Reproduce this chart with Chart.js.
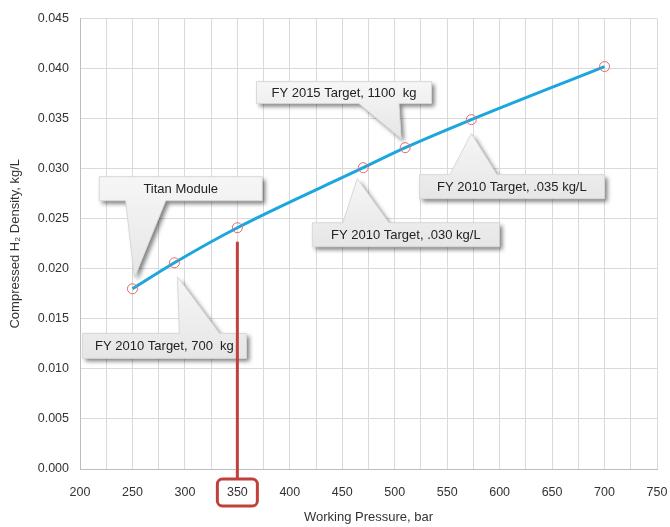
<!DOCTYPE html>
<html>
<head>
<meta charset="utf-8">
<script src="https://cdn.jsdelivr.net/npm/chart.js@4"></script>
<style>
  html, body { margin: 0; padding: 0; background: #fff; }
  #wrap { width: 670px; height: 527px; }
</style>
</head>
<body>
<div id="wrap"><canvas id="myChart"></canvas></div>
<script>
// datos
const presiones = [250, 290, 350, 470, 510, 573, 700];
const densidades = [0.0180, 0.0206, 0.0241, 0.0301, 0.0321, 0.0349, 0.0402];
const xTickLabels = [200, 250, 300, 350, 400, 450, 500, 550, 600, 650, 700, 750];
const yTickLabels = [0, 0.005, 0.01, 0.015, 0.02, 0.025, 0.03, 0.035, 0.04, 0.045];
const etiquetas = ['Titan Module', 'FY 2010 Target, 700  kg', 'FY 2015 Target, 1100  kg',
                   'FY 2010 Target, .030 kg/L', 'FY 2010 Target, .035 kg/L'];
const puntoEtiqueta = [0, 1, 4, 3, 5];
const presionMarcada = 350;

const fuente = '"Liberation Sans", Arial, sans-serif';
const rojo = '#c0413a';

// posicion de cada globo (centro en unidades de datos), tamano y punta
const globos = [
  { cx: 296, cy: 0.0280, w: 163, h: 24, lado: 'abajo', base: [-55, -15], punta: [2, -11] },
  { cx: 280.5, cy: 0.0123, w: 164, h: 25, lado: 'arriba', base: [15, 55], punta: [3, 14] },
  { cx: 451.6, cy: 0.0376, w: 175, h: 22, lado: 'abajo', base: [15, 55], punta: [-4, -9] },
  { cx: 510.6, cy: 0.0234, w: 187, h: 24, lado: 'arriba', base: [-63, -17], punta: [-6, 11] },
  { cx: 611.7, cy: 0.0282, w: 185, h: 24, lado: 'arriba', base: [-62, -15], punta: [0, 14] }
];

const anotaciones = {
  id: 'anotaciones',
  afterDatasetsDraw(chart) {
    const { ctx, scales: { x, y } } = chart;
    const meta = chart.getDatasetMeta(0);
    ctx.save();
    globos.forEach((g, i) => {
      const p = meta.data[puntoEtiqueta[i]];
      const cx = x.getPixelForValue(g.cx);
      const cy = y.getPixelForValue(g.cy);
      const l = cx - g.w / 2, r = cx + g.w / 2, t = cy - g.h / 2, b = cy + g.h / 2;
      const tx = p.x + g.punta[0], ty = p.y + g.punta[1];
      const b1 = cx + g.base[0], b2 = cx + g.base[1];

      ctx.beginPath();
      ctx.moveTo(l, t);
      if (g.lado === 'arriba') { ctx.lineTo(b1, t); ctx.lineTo(tx, ty); ctx.lineTo(b2, t); }
      ctx.lineTo(r, t);
      ctx.lineTo(r, b);
      if (g.lado === 'abajo') { ctx.lineTo(b2, b); ctx.lineTo(tx, ty); ctx.lineTo(b1, b); }
      ctx.lineTo(l, b);
      ctx.closePath();

      const grad = ctx.createLinearGradient(0, Math.min(t, ty), 0, Math.max(b, ty));
      grad.addColorStop(0, '#f6f6f6');
      grad.addColorStop(1, '#e6e6e6');
      ctx.shadowColor = 'rgba(0,0,0,0.5)';
      ctx.shadowBlur = 4;
      ctx.shadowOffsetX = 3;
      ctx.shadowOffsetY = 3;
      ctx.fillStyle = grad;
      ctx.fill();
      ctx.shadowColor = 'transparent';
      ctx.strokeStyle = '#d8d8d8';
      ctx.lineWidth = 1;
      ctx.stroke();

      ctx.fillStyle = '#222';
      ctx.font = '13px ' + fuente;
      ctx.textAlign = 'center';
      ctx.textBaseline = 'middle';
      ctx.fillText(etiquetas[i], cx, cy + 1);
    });
    ctx.restore();
  },
  afterDraw(chart) {
    // linea roja y recuadro en el 350
    const { ctx, chartArea, scales: { x, y } } = chart;
    const px = x.getPixelForValue(presionMarcada);
    const py = y.getPixelForValue(densidades[presiones.indexOf(presionMarcada)]);
    const top = chartArea.bottom + 10;
    ctx.save();
    ctx.strokeStyle = rojo;
    ctx.lineWidth = 3;
    ctx.beginPath();
    ctx.moveTo(px, py + 14);
    ctx.lineTo(px, top);
    ctx.stroke();
    ctx.beginPath();
    ctx.roundRect(px - 20, top, 40, 27, 5);
    ctx.stroke();
    ctx.restore();
  }
};

const config = {
  type: 'line',
  data: {
    datasets: [{
      data: presiones.map((p, i) => ({ x: p, y: densidades[i] })),
      borderColor: '#1aa6de',
      borderWidth: 3,
      cubicInterpolationMode: 'monotone',
      pointRadius: 5,
      pointBorderWidth: 1,
      pointBorderColor: '#e06a6a',
      pointBackgroundColor: 'transparent'
    }]
  },
  options: {
    responsive: true,
    maintainAspectRatio: false,
    animation: false,
    layout: { padding: { top: 18, right: 0, left: 0, bottom: 0 } },
    plugins: { legend: { display: false }, tooltip: { enabled: false } },
    scales: {
      x: {
        type: 'linear',
        min: 200,
        max: 750,
        afterFit: s => { s.height = 58; s.paddingRight = 13; },
        ticks: {
          stepSize: 25,
          autoSkip: false,
          maxRotation: 0,
          padding: 16,
          color: '#333',
          font: { family: fuente, size: 12.5 },
          callback: v => xTickLabels.includes(v) ? String(v) : ''
        },
        grid: { color: '#dadada', drawTicks: false },
        border: { color: '#bdbdbd' },
        title: {
          display: true,
          text: 'Working Pressure, bar',
          color: '#333',
          font: { family: fuente, size: 13 },
          padding: { top: 0, bottom: 2 }
        }
      },
      y: {
        min: 0,
        max: 0.045,
        afterFit: s => { s.width = 80; },
        ticks: {
          stepSize: 0.005,
          padding: 11,
          color: '#333',
          font: { family: fuente, size: 12.5 },
          callback: v => yTickLabels.some(t => Math.abs(t - v) < 1e-9) ? v.toFixed(3) : ''
        },
        grid: { color: '#dadada', drawTicks: false },
        border: { color: '#bdbdbd' },
        title: {
          display: true,
          text: 'Compressed H\u2082 Density, kg/L',
          color: '#333',
          font: { family: fuente, size: 13 },
          padding: { top: 8, bottom: 0 }
        }
      }
    }
  },
  plugins: [anotaciones]
};

new Chart(document.getElementById('myChart'), config);
</script>
</body>
</html>
